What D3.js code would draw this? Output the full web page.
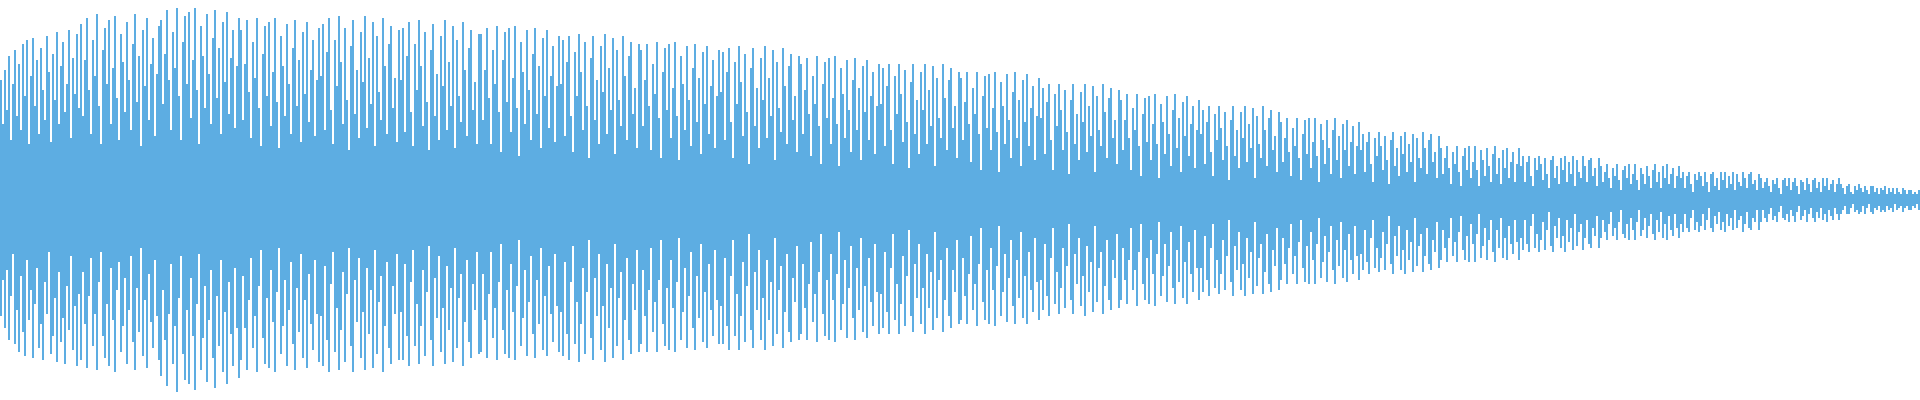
<!DOCTYPE html>
<html>
<head>
<meta charset="utf-8">
<script src="https://cdn.jsdelivr.net/npm/d3@7"></script>
<style>
html,body{margin:0;padding:0;background:#fff;overflow:hidden;}
svg{display:block;}
</style>
</head>
<body>
<svg id="chart" width="1920" height="400"></svg>
<script>
// Peak amplitude above the centre line for each column (percent of full scale)
const topValues = [
60,38,65,45,72,30,58,75,42,68,35,78,52,80,28,62,81,47,70,33,76,55,40,82,64,29,73,50,84,38,67,79,44,58,85,31,71,53,83,46,
88,42,70,91,55,33,80,62,93,47,28,75,86,58,90,38,66,92,51,30,83,69,44,89,60,35,78,93,49,72,27,85,57,91,40,68,81,32,63,87,
90,48,73,95,60,35,84,66,96,52,30,79,92,58,94,41,70,96,55,28,87,72,46,93,63,38,81,95,51,76,33,89,59,94,43,71,85,36,67,91,
85,40,68,90,54,31,79,61,91,46,27,73,87,52,89,37,64,91,49,26,82,67,42,88,58,33,76,90,47,70,29,84,53,89,39,65,80,32,60,86,
62,88,35,74,91,45,28,80,57,92,69,38,86,50,25,77,90,43,65,31,84,59,92,36,71,48,89,27,82,54,40,91,67,33,78,87,46,61,29,85,
60,86,34,72,89,44,27,78,55,90,67,37,84,49,25,75,88,42,63,30,82,57,90,35,69,47,87,26,80,52,39,89,65,32,76,85,45,59,28,83,
83,40,65,86,51,28,75,58,87,44,24,70,84,49,86,34,61,87,46,22,79,64,38,85,55,30,73,86,43,67,26,81,52,85,36,62,77,29,57,82,
58,80,32,69,82,42,24,74,52,83,64,35,79,47,21,71,82,40,60,28,77,54,83,33,66,45,81,23,75,50,37,82,62,30,72,79,43,56,26,78,
75,37,60,78,47,25,68,53,79,41,21,64,76,45,78,31,56,79,42,20,72,58,35,77,50,27,66,78,39,61,23,74,48,77,33,57,70,26,52,75,
54,74,30,64,76,39,21,69,48,77,59,32,73,44,18,66,76,37,56,26,71,50,77,31,61,42,75,20,69,46,34,76,57,28,67,73,40,52,24,72,
68,33,55,71,43,22,62,48,72,37,18,58,69,41,71,28,51,72,38,17,66,53,31,70,45,24,60,71,35,56,20,67,44,70,30,52,64,23,47,68,
48,66,27,57,68,35,18,62,43,68,53,29,65,39,16,59,68,33,50,23,64,45,68,28,55,37,67,17,61,41,31,68,51,25,60,66,36,47,21,64,
61,30,49,64,38,19,56,43,64,33,15,52,62,36,63,25,46,64,34,14,59,47,28,63,40,21,54,64,31,50,17,60,39,63,27,46,57,20,42,61,
41,56,23,49,58,30,15,53,37,58,45,25,55,34,13,50,58,28,43,20,54,39,58,24,47,32,57,14,52,35,27,58,44,21,51,56,31,40,18,55,
50,25,40,53,31,15,46,35,53,27,12,43,51,29,52,20,38,53,28,11,48,39,23,52,33,17,45,53,26,41,14,49,32,52,22,38,47,16,35,50,
33,45,18,39,47,24,12,43,30,47,36,20,44,27,10,40,47,22,35,16,44,31,47,19,38,26,46,11,42,28,21,47,35,17,41,45,25,32,14,44,
39,19,31,41,24,12,36,27,41,21,10,33,40,23,41,16,29,41,22,9,38,30,18,40,26,13,35,41,20,32,11,38,25,40,17,29,37,13,27,39,
25,33,14,29,34,18,9,31,22,34,27,15,32,20,8,30,34,17,26,12,32,23,34,14,28,19,33,9,31,21,16,34,26,13,30,33,19,24,11,32,
26,13,21,27,16,8,24,18,27,14,7,22,26,15,27,11,19,27,15,7,25,20,12,26,17,9,23,27,13,21,8,25,16,26,11,19,24,9,18,26,
17,22,9,19,22,12,7,21,15,22,18,10,21,13,6,20,22,11,17,8,21,15,22,9,19,13,22,7,20,14,11,22,17,9,20,21,12,16,7,21,
17,9,14,18,11,6,16,12,18,10,5,15,17,11,18,8,13,18,10,5,16,13,8,17,12,6,15,18,9,14,6,17,11,18,8,13,16,6,12,17,
11,14,6,12,14,8,4,13,10,14,12,7,14,9,4,13,14,7,11,5,14,10,14,6,12,8,14,5,13,9,7,14,11,6,13,14,8,10,5,13,
11,6,9,11,7,4,10,8,11,6,3,10,11,7,11,5,9,11,7,3,10,9,5,11,8,4,10,11,6,9,4,11,7,11,5,8,10,4,8,11,
8,6,3,7,8,4,3,7,5,8,6,4,7,5,3,7,7,4,6,3,6,5,7,3,6,4,6,3,6,4,3,6,5,3,5,5,3,4,3,5
];
// Peak amplitude below the centre line for each column (percent of full scale)
const bottomValues = [
58,40,64,35,70,48,27,72,55,76,38,66,78,30,60,45,79,52,34,74,62,80,41,57,26,77,68,49,81,36,71,59,82,43,65,28,75,53,83,47,
80,36,62,84,48,29,73,57,85,41,26,68,79,52,83,34,60,86,45,31,76,63,39,82,55,28,71,85,44,66,24,78,50,84,37,61,74,30,58,80,
88,45,70,93,57,32,82,63,96,49,28,77,90,55,92,39,68,95,52,27,85,69,43,91,60,35,79,94,48,73,30,86,56,92,41,67,83,34,64,89,
80,38,64,85,50,29,74,58,86,43,25,69,82,49,84,35,61,86,46,24,77,63,40,83,55,31,72,85,44,66,27,79,50,84,37,62,75,30,57,81,
58,83,33,70,86,42,26,76,54,85,65,36,81,47,24,73,86,40,61,29,79,56,85,34,67,45,84,25,77,51,38,86,63,31,74,82,43,57,27,80,
56,80,32,68,83,41,25,73,52,82,63,35,78,46,23,70,83,39,59,28,76,54,82,33,65,44,81,24,74,49,37,83,61,30,71,79,42,55,26,77,
76,37,60,79,47,26,69,54,80,41,22,65,77,45,79,32,56,80,43,20,73,59,35,78,51,28,67,79,40,62,24,75,48,78,33,57,71,27,53,76,
56,78,31,67,80,41,23,72,51,81,62,34,77,46,20,69,80,39,58,27,75,53,81,32,64,44,79,22,73,49,36,80,60,29,70,77,42,55,25,76,
72,35,58,76,45,24,66,51,76,40,20,62,73,44,75,30,54,76,41,19,70,56,34,74,48,26,64,75,38,59,22,71,46,74,32,55,68,25,50,72,
53,72,29,63,75,38,20,68,47,75,58,31,71,43,17,65,74,36,55,25,70,49,75,30,60,41,73,19,67,45,33,74,56,27,66,71,39,51,23,70,
67,32,54,70,42,21,61,47,71,36,17,57,68,40,70,27,50,71,37,16,65,52,30,69,44,23,59,70,34,55,19,66,43,69,29,51,63,22,46,67,
47,64,26,56,67,34,17,60,42,67,52,28,63,38,15,58,66,32,49,22,62,44,67,27,54,36,65,16,59,40,30,66,50,24,58,64,35,46,20,62,
60,29,48,62,37,18,55,42,63,32,14,51,60,35,62,24,45,63,33,13,58,46,27,61,39,20,53,62,30,49,16,59,38,62,26,45,56,19,41,60,
40,55,22,48,58,29,14,52,36,57,44,24,54,33,12,50,57,27,42,19,53,38,58,23,46,31,56,13,51,34,26,57,43,20,50,55,30,39,17,54,
50,24,40,52,30,14,45,35,53,26,12,42,50,29,52,20,37,53,27,11,48,38,22,51,33,16,44,52,25,41,13,49,31,52,21,37,46,15,34,50,
34,46,18,40,48,24,12,44,30,47,37,20,45,28,10,41,48,23,35,16,45,32,48,19,39,26,47,11,43,29,22,47,36,17,42,46,25,33,14,45,
40,19,32,42,24,12,37,28,42,21,10,34,41,23,42,16,30,42,22,9,39,31,18,41,26,13,35,42,20,33,11,39,25,41,17,30,37,13,28,40,
27,35,15,31,37,19,10,34,24,36,29,16,35,22,8,32,37,18,28,13,35,25,37,15,30,21,36,9,33,23,17,36,28,14,32,35,20,26,11,34,
30,15,24,31,19,9,28,21,31,16,8,25,30,18,31,12,22,31,17,7,29,23,14,30,20,10,26,31,15,24,9,29,19,30,13,22,27,10,21,30,
19,25,10,22,26,13,7,24,17,26,20,11,25,15,6,23,26,13,19,9,24,18,26,10,21,14,25,7,23,16,12,25,19,10,22,24,14,18,8,24,
19,10,16,20,12,6,18,14,20,11,5,17,19,12,20,9,15,20,11,5,18,15,9,19,13,7,17,20,10,16,6,19,12,20,8,15,18,7,14,19,
12,16,7,14,16,9,5,15,11,16,13,7,15,10,4,14,16,8,12,6,15,11,16,7,13,9,15,5,14,10,8,16,12,6,14,15,9,11,5,15,
11,5,9,11,7,4,10,8,11,6,3,9,10,7,11,5,8,11,6,3,10,8,5,11,7,4,9,11,6,9,4,10,7,11,5,8,10,4,7,10,
7,5,3,7,7,4,2,6,5,7,6,3,7,4,2,6,7,4,5,3,6,5,6,3,5,4,6,2,5,4,3,6,4,3,5,5,3,4,2,5
];
const amplitudeDomain = [-100, 100];

const width = 1920, height = 400;
const svg = d3.select("#chart");

const x = d3.scaleBand()
  .domain(d3.range(topValues.length))
  .range([0, width])
  .padding(0);

const y = d3.scaleLinear()
  .domain(amplitudeDomain)
  .range([height, 0]);

svg.append("g")
  .attr("fill", "#5dade2")
  .attr("shape-rendering", "crispEdges")
  .selectAll("rect")
  .data(topValues.map((t, i) => ({i, t, b: bottomValues[i]})))
  .join("rect")
  .attr("x", d => x(d.i))
  .attr("width", x.bandwidth())
  .attr("y", d => y(d.t))
  .attr("height", d => y(-d.b) - y(d.t));
</script>
</body>
</html>
